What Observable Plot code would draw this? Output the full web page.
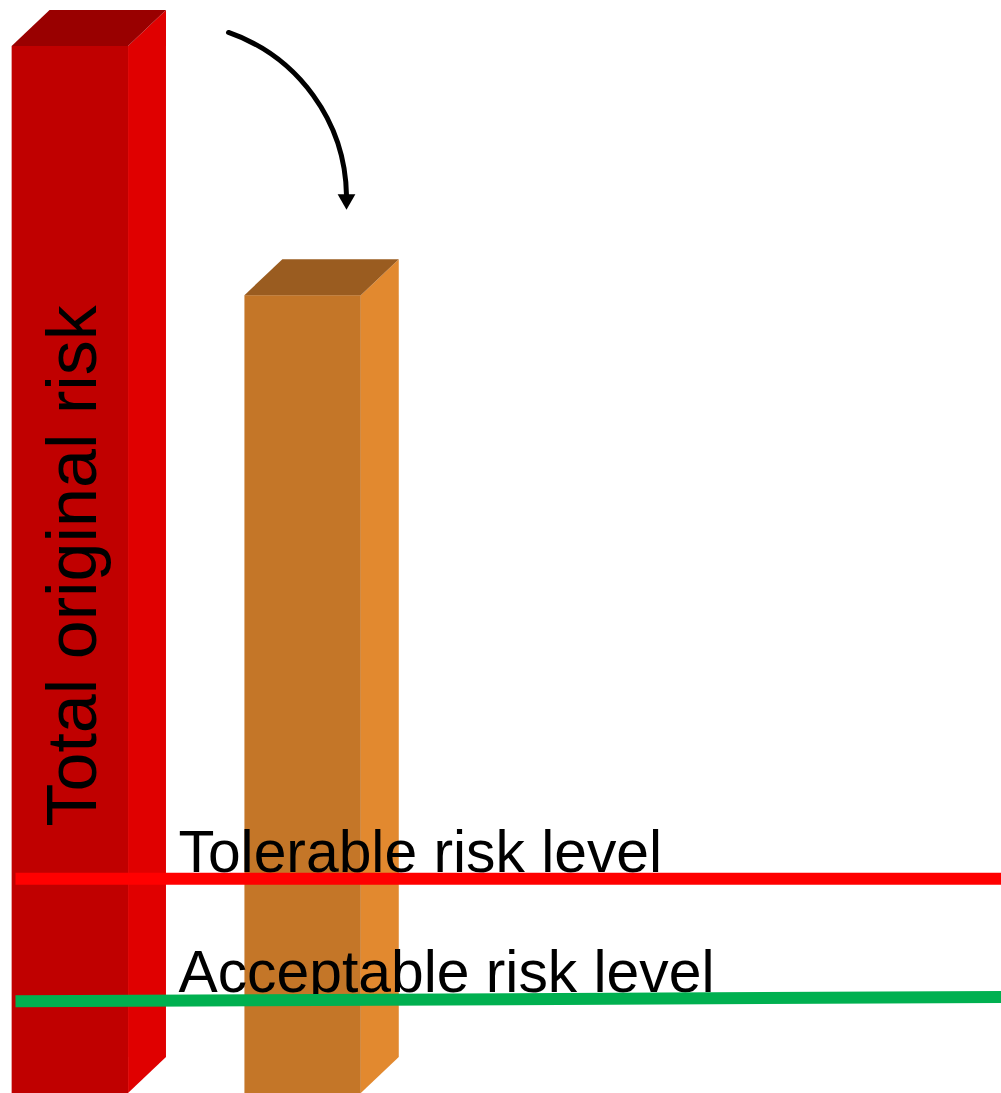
<!DOCTYPE html>
<html>
<head>
<meta charset="utf-8">
<script src="https://cdn.jsdelivr.net/npm/d3@7"></script>
<script src="https://cdn.jsdelivr.net/npm/@observablehq/plot@0.6"></script>
<style>
  html, body { margin: 0; padding: 0; background: #ffffff; }
  #chart svg { display: block; }
</style>
</head>
<body>
<div id="chart"></div>
<script>
// ---- data ----
const categories = ["Total original risk", "Residual risk"];
const riskValues = [100, 76.2];
const frontColors = ["#C00000", "#C47628"];
const sideColors = ["#E00000", "#E2892F"];
const topColors = ["#990000", "#9A5C20"];

const levelNames = ["Tolerable risk level", "Acceptable risk level"];
const levelStart = [20.5, 8.8];
const levelEnd = [20.5, 9.22];
const levelColors = ["#FF0000", "#00B050"];

const barLabel = "Total original risk";

// ---- geometry helpers (scale units) ----
const W = 0.25;    // half bar width
const DX = 0.163;  // 3D depth, x
const DY = 3.44;   // 3D depth, y

const bars = categories.map((c, i) => ({c, i, v: riskValues[i]}));

const fronts = bars.map(b => ({x1: b.i - W, x2: b.i + W, y1: 0, y2: b.v, fill: frontColors[b.i]}));

const tops = bars.flatMap(b => [
  {z: b.c, x: b.i - W,      y1: b.v,      y2: b.v,      fill: topColors[b.i]},
  {z: b.c, x: b.i - W + DX, y1: b.v,      y2: b.v + DY, fill: topColors[b.i]},
  {z: b.c, x: b.i + W,      y1: b.v,      y2: b.v + DY, fill: topColors[b.i]},
  {z: b.c, x: b.i + W + DX, y1: b.v + DY, y2: b.v + DY, fill: topColors[b.i]}
]);

const sides = bars.flatMap(b => [
  {z: b.c, x: b.i + W,      y1: 0,  y2: b.v,      fill: sideColors[b.i]},
  {z: b.c, x: b.i + W + DX, y1: DY, y2: b.v + DY, fill: sideColors[b.i]}
]);

const xLeft = -0.2356, xRight = 4.0;
const levelLines = levelNames.flatMap((n, i) => [
  {z: n, x: xLeft,  y: levelStart[i], stroke: levelColors[i]},
  {z: n, x: xRight, y: levelEnd[i],   stroke: levelColors[i]}
]);
const levelLabels = levelNames.map((n, i) => ({text: n, x: 0.4646, y: levelStart[i] + (i === 0 ? 0.7 : 0.85)}));

// arrow from the top of the first bar to the top of the second
const arrowData = [{x1: 0.6794, y1: riskValues[0] + 1.34, x2: 1.1863, y2: riskValues[1] + 9.57}];
const arrowHead = [{x: 1.1863, y: riskValues[1] + 9.19}];

const font = "'Liberation Sans', Arial, Helvetica, sans-serif";

const chart = Plot.plot({
  width: 1001,
  height: 1093,
  margin: 0,
  x: {domain: [-0.3, 4.0], range: [0, 1001], axis: null},
  y: {domain: [0, 100], range: [1093, 46], axis: null},
  color: {type: "identity"},
  style: {fontFamily: font, background: "#ffffff"},
  marks: [
    Plot.rect(fronts, {x1: "x1", x2: "x2", y1: "y1", y2: "y2", fill: "fill"}),
    Plot.areaY(sides, {x: "x", y1: "y1", y2: "y2", z: "z", fill: "fill"}),
    Plot.areaY(tops, {x: "x", y1: "y1", y2: "y2", z: "z", fill: "fill"}),
    Plot.text([barLabel], {
      x: 0.1102, y: 25.5, text: d => d, rotate: -90,
      textAnchor: "start", lineAnchor: "bottom",
      fontSize: 70, fill: "#000000", fontFamily: font
    }),
    Plot.text(levelLabels, {
      x: "x", y: "y", text: "text", textAnchor: "start", lineAnchor: "bottom",
      fontSize: 58.8, fill: "#000000", fontFamily: font
    }),
    Plot.line(levelLines, {x: "x", y: "y", z: "z", stroke: "stroke", strokeWidth: 12, strokeLinecap: "butt"}),
    Plot.arrow(arrowData, {x1: "x1", y1: "y1", x2: "x2", y2: "y2", bend: 35, headLength: 0, strokeWidth: 5, stroke: "#000000"}),
    Plot.dot(arrowHead, {x: "x", y: "y", symbol: "triangle", rotate: 180, r: 6.6, fill: "#000000", stroke: "none"})
  ]
});

document.getElementById("chart").appendChild(chart);
</script>
</body>
</html>
